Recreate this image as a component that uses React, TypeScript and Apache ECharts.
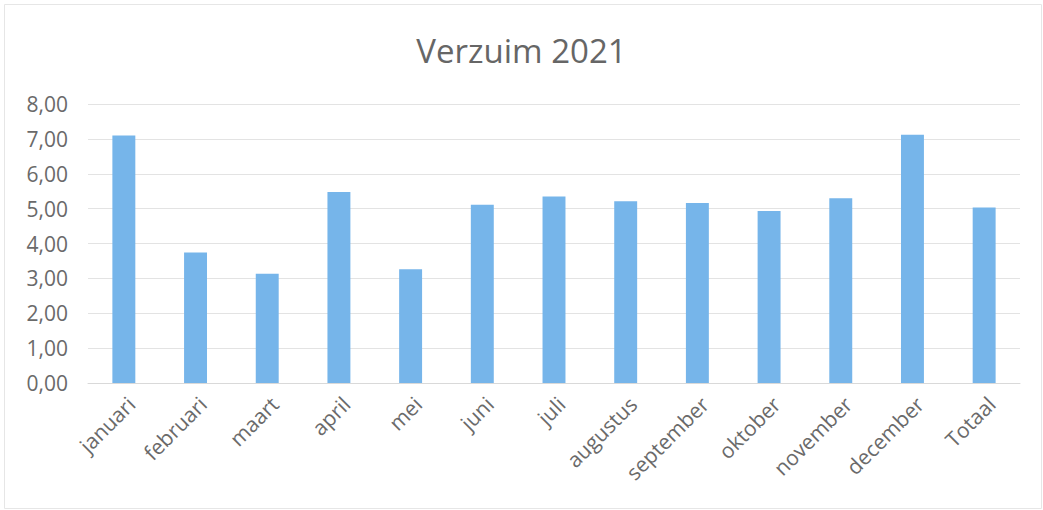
import React, { useEffect, useRef } from "react";
import * as echarts from "echarts";

const categories = [
  "januari", "februari", "maart", "april", "mei", "juni", "juli",
  "augustus", "september", "oktober", "november", "december", "Totaal",
];
const verzuim = [7.1, 3.74, 3.13, 5.48, 3.26, 5.11, 5.35, 5.21, 5.16, 4.93, 5.3, 7.12, 5.03];
const title = "Verzuim 2021";
const yMin = 0;
const yMax = 8;
const yStep = 1;

export default function App() {
  const ref = useRef<HTMLDivElement>(null);
  useEffect(() => {
    if (!ref.current) return;
    const chart = echarts.init(ref.current, null, { renderer: "svg" });
    const font = "'Open Sans', 'Noto Sans', sans-serif";
    chart.setOption({
      animation: false,
      backgroundColor: "#ffffff",
      title: {
        text: title,
        left: "center",
        top: 29,
        textStyle: { color: "#666666", fontSize: 33, fontWeight: "normal", fontFamily: font },
      },
      grid: { left: 88, right: 23, top: 104, bottom: 127 },
      xAxis: {
        type: "category",
        data: categories,
        axisLine: { lineStyle: { color: "#d9d9d9" } },
        axisTick: { show: false },
        axisLabel: {
          rotate: 45,
          interval: 0,
          color: "#6a6a6a",
          fontSize: 21,
          fontFamily: font,
          margin: 10,
          verticalAlign: "top",
        },
      },
      yAxis: {
        type: "value",
        min: yMin,
        max: yMax,
        interval: yStep,
        axisLine: { show: false },
        axisTick: { show: false },
        splitLine: { lineStyle: { color: "#e3e3e3" } },
        axisLabel: {
          color: "#6a6a6a",
          fontSize: 21,
          fontFamily: font,
          margin: 20,
          formatter: (v: number) => v.toFixed(2).replace(".", ","),
        },
      },
      series: [
        {
          type: "bar",
          data: verzuim,
          barWidth: "32%",
          itemStyle: { color: "#76b5ea" },
        },
      ],
      graphic: [
        {
          type: "rect",
          left: 2,
          top: 2,
          shape: { width: 1037, height: 504 },
          style: { fill: "none", stroke: "#e6e6e6", lineWidth: 1 },
          silent: true,
        },
      ],
    });
    return () => chart.dispose();
  }, []);
  return (
    <div
      ref={ref}
      style={{ position: "fixed", left: 0, top: 0, width: 1043, height: 510 }}
    />
  );
}
